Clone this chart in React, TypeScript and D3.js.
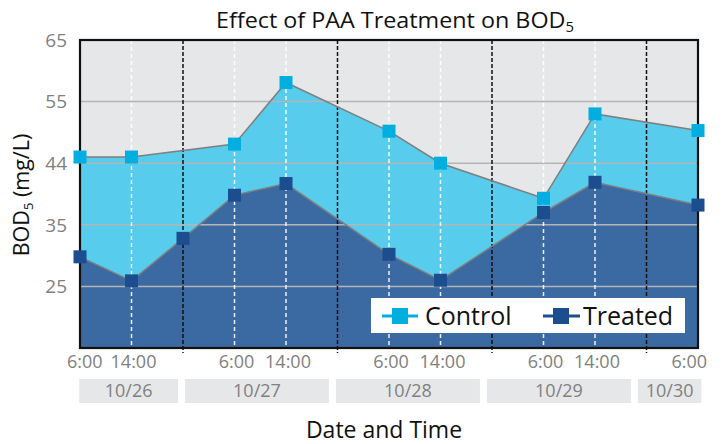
import React from "react";
import * as d3 from "d3";

const slotLabels = ["6:00", "14:00", "", "6:00", "14:00", "", "6:00", "14:00", "", "6:00", "14:00", "", "6:00"];
const dayBoundarySlots = [2, 5, 8, 11];
const control: (number | null)[] = [46.0, 46.0, null, 48.1, 58.1, null, 50.2, 45.0, null, 39.3, 53.0, null, 50.3];
const treated: (number | null)[] = [29.8, 25.9, 32.8, 39.8, 41.7, null, 30.2, 26.0, null, 37.0, 41.9, null, 38.2];
const yTickValues = [65, 55, 45, 35, 25];
const yTickLabels = ["65", "55", "44", "35", "25"];
const dates = ["10/26", "10/27", "10/28", "10/29", "10/30"];
const dateStart = [-0.1, 2, 5, 8, 11];
const dateEnd = [2, 5, 8, 11, 12.4];

const W = 722, H = 444;
const L = 80, R = 698, T = 40, B = 348;
const FONT = "'Open Sans', Lato, sans-serif";

export default function App() {
  const idx = slotLabels.map((_, i) => i);
  const x = d3.scaleLinear().domain([0, 12]).range([L, R]);
  const y = d3.scaleLinear().domain([15, 65]).range([B, T]);
  const xd = d3.scaleLinear().domain([0, 12.4]).range([84.3, 708.4]);

  const pts = (arr: (number | null)[]) =>
    arr.map((v, i) => ({ i, v })).filter((d) => d.v !== null) as { i: number; v: number }[];
  const cPts = pts(control);
  const tPts = pts(treated);

  const area = d3.area<{ i: number; v: number }>().x((d) => x(d.i)).y0(B).y1((d) => y(d.v));
  const line = d3.line<{ i: number; v: number }>().x((d) => x(d.i)).y((d) => y(d.v));

  const cFill = "#57CCEC", cMark = "#00AEDF";
  const tFill = "#3B69A1", tMark = "#1C4D8E";
  const ms = 13;

  return (
    <svg width={W} height={H} style={{ position: "absolute", left: 0, top: 0, background: "#fff" }} fontFamily={FONT}>
      {/* title */}
      <text x={395} y={28} textAnchor="middle" fontSize={22} fill="#111" textLength={358} lengthAdjust="spacingAndGlyphs">
        Effect of PAA Treatment on BOD<tspan fontSize={14} dy={4}>5</tspan>
      </text>

      {/* plot background */}
      <rect x={L} y={T} width={R - L} height={B - T} fill="#E6E7E9" />
      <path d={area(cPts) || ""} fill={cFill} />
      <path d={area(tPts) || ""} fill={tFill} />

      {/* gridlines */}
      {yTickValues.map((v, k) =>
        k === 0 ? null : (
          <line key={v} x1={L} x2={R} y1={y(v)} y2={y(v)} stroke="#B5B5B5" strokeWidth={1.5} />
        )
      )}

      {/* vertical white dashed lines */}
      {idx.filter((i) => slotLabels[i] !== "" && i !== 0 && i !== 12).map((i) => (
        <line key={"w" + i} x1={x(i)} x2={x(i)} y1={T} y2={B} stroke="#FFFFFF" strokeOpacity={0.9} strokeWidth={1.5} strokeDasharray="4,3" />
      ))}
      {/* black dashed day boundaries */}
      {dayBoundarySlots.map((i) => (
        <line key={"b" + i} x1={x(i)} x2={x(i)} y1={T} y2={B + 5} stroke="#111" strokeWidth={1.5} strokeDasharray="4,2" />
      ))}

      {/* series lines */}
      <path d={line(cPts) || ""} fill="none" stroke="#7F7F7F" strokeWidth={1.5} />
      <path d={line(tPts) || ""} fill="none" stroke="#7F7F7F" strokeWidth={1.5} />

      {/* border */}
      <rect x={L} y={T} width={R - L} height={B - T} fill="none" stroke="#111" strokeWidth={2.2} />

      {/* markers */}
      {cPts.map((d) => (
        <rect key={"c" + d.i} x={x(d.i) - ms / 2} y={y(d.v) - ms / 2} width={ms} height={ms} fill={cMark} />
      ))}
      {tPts.map((d) => (
        <rect key={"t" + d.i} x={x(d.i) - ms / 2} y={y(d.v) - ms / 2} width={ms} height={ms} fill={tMark} />
      ))}

      {/* y ticks */}
      {yTickValues.map((v, k) => (
        <text key={"y" + v} x={67} y={y(v)} dy="0.36em" textAnchor="end" fontSize={19} fill="#808080">
          {yTickLabels[k]}
        </text>
      ))}

      {/* y title */}
      <text transform={`translate(29,195) rotate(-90)`} textAnchor="middle" fontSize={21.5} fill="#111">
        BOD<tspan fontSize={13} dy={4}>5</tspan><tspan dy={-4}> (mg/L)</tspan>
      </text>

      {/* x tick labels */}
      {idx.filter((i) => slotLabels[i] !== "").map((i) => {
        let anchor: "middle" | "start" | "end" = "middle";
        let xx = x(i) + 2;
        if (i === 0) { anchor = "start"; xx = x(i) - 13; }
        if (i === 12) { anchor = "end"; xx = x(i) + 9; }
        return (
          <text key={"x" + i} x={xx} y={368} textAnchor={anchor} fontSize={18} fill="#808080">
            {slotLabels[i]}
          </text>
        );
      })}

      {/* date boxes */}
      {dates.map((dt, k) => {
        const x0 = xd(dateStart[k]);
        const x1 = xd(dateEnd[k]) - 7;
        return (
          <g key={dt}>
            <rect x={x0} y={379} width={x1 - x0} height={24} fill="#E6E7E9" />
            <text x={(x0 + x1) / 2} y={391} dy="0.36em" textAnchor="middle" fontSize={18} fill="#808080">
              {dt}
            </text>
          </g>
        );
      })}

      {/* x title */}
      <text x={384} y={438} textAnchor="middle" fontSize={23} fill="#111">Date and Time</text>

      {/* legend */}
      <rect x={371} y={298} width={314} height={35} fill="#FFFFFF" />
      <line x1={382} x2={418} y1={316} y2={316} stroke={cMark} strokeWidth={3} />
      <rect x={392} y={308} width={16} height={16} fill={cMark} />
      <text x={425} y={316} dy="0.36em" fontSize={25} fill="#111">Control</text>
      <line x1={543} x2={580} y1={316} y2={316} stroke={tMark} strokeWidth={3} />
      <rect x={553} y={308} width={16} height={16} fill={tMark} />
      <text x={583} y={316} dy="0.36em" fontSize={25} fill="#111">Treated</text>
    </svg>
  );
}
